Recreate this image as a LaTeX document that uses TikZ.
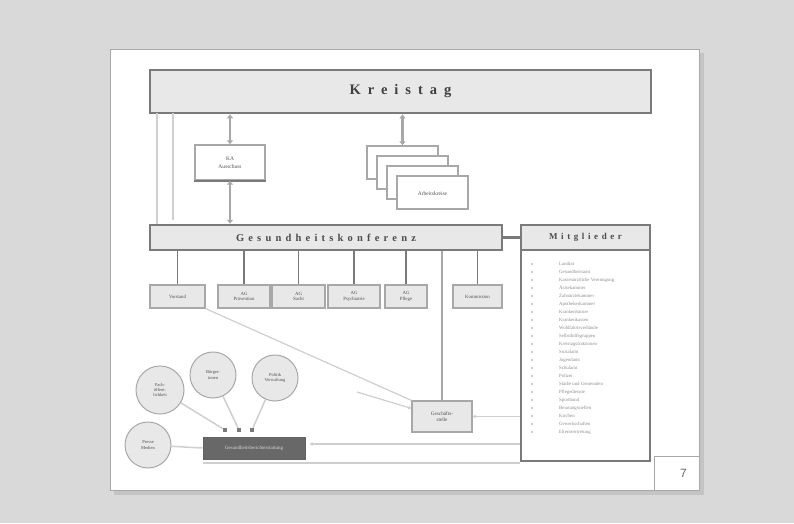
\documentclass[tikz,border=0pt]{standalone}
\usepackage{fontspec}
\setmainfont{Liberation Serif}
\newfontfamily\spacedA[LetterSpace=48]{Liberation Serif}
\newfontfamily\spacedB[LetterSpace=40]{Liberation Serif}
\newfontfamily\numfont{Liberation Sans}
\usetikzlibrary{arrows.meta}
\definecolor{bgc}{HTML}{D9D9D9}
\definecolor{shadowc}{HTML}{C4C4C4}
\definecolor{dark}{HTML}{7A7A7A}
\definecolor{mid}{HTML}{A8A8A8}
\definecolor{light}{HTML}{CFCFCF}
\definecolor{fillc}{HTML}{E8E8E8}
\definecolor{txt}{HTML}{505050}
\tikzset{
  bar/.style={draw=dark, line width=2.5pt, fill=fillc, inner sep=0pt, text=txt},
  smallbox/.style={draw=mid, line width=1.2pt, fill=fillc, inner sep=0pt, align=center,
    font=\fontsize{4.8}{5.5}\selectfont, text=txt},
  stackbox/.style={draw=mid, line width=1.2pt, fill=white, inner sep=0pt,
    minimum width=71pt, minimum height=33pt, font=\fontsize{5.5}{6}\selectfont, text=txt},
  circ/.style={circle, draw=mid, line width=1pt, fill=fillc, inner sep=0pt, align=center,
    font=\fontsize{4.5}{5.2}\selectfont, text=txt},
  dbl/.style={draw=mid, line width=2.6pt, {Latex[length=4pt,width=7pt]}-{Latex[length=4pt,width=7pt]}},
  conn/.style={draw=dark, line width=1.6pt},
  faint/.style={draw=light, line width=1.5pt},
  item/.style={anchor=west, inner sep=0pt, font=\fontsize{4.8}{5}\selectfont, text=black!45},
  bul/.style={fill=light, minimum size=2.5pt, inner sep=0pt},
  sq/.style={fill=dark, minimum size=4pt, inner sep=0pt}
}
\begin{document}
\begin{tikzpicture}[x=1pt,y=-1pt]
\useasboundingbox (0,0) rectangle (794,523);
\fill[bgc] (0,0) rectangle (794,523);
% slide
\fill[shadowc] (114,53) rectangle (704,495);
\draw[draw=mid, line width=0.8pt, fill=white] (110,49) rectangle (699,490);

% Kreistag
\node[bar, minimum width=501pt, minimum height=43pt] (kt) at (400.5,91.5)
  {\spacedA\fontsize{14.5}{16}\selectfont\bfseries\color{black!75}Kreistag};
\coordinate (l1) at (157,113);
\coordinate (l2) at (173,113);

% KA box
\node[smallbox, fill=white, minimum width=70pt, minimum height=35pt, font=\fontsize{5.5}{8}\selectfont] (ka) at (230,162.5) {KA\\Ausschuss};
\draw[dark, line width=2.2pt] (ka.south west) -- (ka.south east);

% stacked boxes
\node[stackbox] (ak1) at (402.5,162.5) {};
\node[stackbox] (ak2) at (412.5,172.5) {};
\node[stackbox] (ak3) at (422.5,182.5) {};
\node[stackbox] (ak4) at (432.5,192.5) {\raisebox{-6pt}{Arbeitskreise}};

% Gesundheitskonferenz
\node[bar, minimum width=352pt, minimum height=25pt] (gk) at (326,237.5)
  {\spacedB\fontsize{10.5}{12}\selectfont\bfseries\color{black!70}Gesundheitskonferenz};

\draw[faint, line width=2.5pt] (l1) -- (l1 |- gk.north);
\draw[faint, line width=2pt] (l2) -- ([yshift=4pt]l2 |- gk.north);

\draw[dbl] (ka.north) -- (ka.north |- kt.south);
\draw[dbl] (ka.south |- gk.north) -- (ka.south);
\draw[dbl] (ak1.north) -- (ak1.north |- kt.south);

% Mitglieder
\node[draw=dark, line width=2.5pt, fill=white, minimum width=129pt, minimum height=236pt, inner sep=0pt] (mg) at (585.5,343) {};
\node[draw=dark, line width=2.5pt, fill=fillc, minimum width=129pt, minimum height=25pt, inner sep=0pt, text=txt] (mgh) at (585.5,237.5)
  {\spacedB\fontsize{9}{10}\selectfont\bfseries\color{black!70}Mitglieder};
\draw[dark, line width=3pt] (gk.east) -- (mgh.west);

% member list
\foreach \t [count=\i] in {Landrat, Gesundheitsamt, Kassenärztliche Vereinigung, Ärztekammer,
  Zahnärztekammer, Apothekerkammer, Krankenhäuser, Krankenkassen, Wohlfahrtsverbände,
  Selbsthilfegruppen, Kreistagsfraktionen, Sozialamt, Jugendamt, Schulamt, Polizei,
  Städte und Gemeinden, Pflegedienste, Sportbund, Beratungsstellen, Kirchen,
  Gewerkschaften, Elternvertretung}{
  \node[bul] at (532, 256+8*\i) {};
  \node[item] at (559, 256+8*\i) {\t};
}

% bottom row boxes
\node[smallbox, minimum width=55pt, minimum height=23pt] (b1) at (177.5,296.5) {Vorstand};
\node[smallbox, minimum width=52pt, minimum height=23pt] (b2) at (244,296.5) {AG\\Prävention};
\node[smallbox, minimum width=53pt, minimum height=23pt] (b3) at (298.5,296.5) {AG\\Sucht};
\node[smallbox, minimum width=52pt, minimum height=23pt] (b4) at (354,296.5) {AG\\Psychiatrie};
\node[smallbox, minimum width=42pt, minimum height=23pt] (b5) at (406,296.5) {AG\\Pflege};
\node[smallbox, minimum width=49pt, minimum height=23pt] (b6) at (477.5,296.5) {Kommission};
\foreach \b in {b1,b2,b3,b4,b5,b6}{
  \draw[conn] (\b.north) -- (\b.north |- gk.south);
}

% Geschaeftsstelle
\node[smallbox, minimum width=60pt, minimum height=31pt, font=\fontsize{5.2}{6}\selectfont] (gs) at (442,416.5) {Geschäfts-\\stelle};
\draw[mid, line width=2.5pt] (gs.north) -- (gs.north |- gk.south);
\draw[faint, -{Latex[length=3pt,width=4pt]}] (mg.west |- gs.east) -- (gs.east);

% diagonals
\draw[faint, line width=1.2pt] (b1.south east) -- (gs.north west);
\coordinate (d0) at (357,392);
\draw[faint, line width=1.2pt, -{Latex[length=3pt,width=4pt]}] (d0) -- ([yshift=-8pt]gs.north west);

% dark box
\node[draw=dark!80!black, fill=dark!85!black, line width=1pt, minimum width=102pt, minimum height=22pt,
  inner sep=0pt, font=\fontsize{5}{6}\selectfont, text=white!85!black] (db) at (254,448) {Gesundheitsberichterstattung};
\draw[faint, -{Latex[length=3pt,width=4pt]}] ([yshift=4pt]mg.west |- db.east) -- ([yshift=4pt,xshift=4pt]db.east);
\draw[faint, line width=2pt] ([yshift=-3pt]db.south west) -- ([yshift=-3pt]db.south west -| mg.west);

% circles
\node[circ, minimum size=48pt] (c1) at (160,390) {Fach-\\öffent-\\lichkeit};
\node[circ, minimum size=46pt] (c2) at (213,375) {Bürger-\\innen};
\node[circ, minimum size=46pt] (c3) at (275,378) {Politik\\Verwaltung};
\node[circ, minimum size=46pt] (c4) at (148,445) {Presse\\Medien};
\node[sq] (s1) at (225,430) {};
\node[sq] (s2) at (239,430) {};
\node[sq] (s3) at (252,430) {};
\draw[faint] (c1) -- (s1);
\draw[faint] (c2) -- (s2);
\draw[faint] (c3) -- (s3);
\draw[faint] (c4) -- (db.west);

% page number
\node[draw=mid, line width=0.8pt, fill=white, minimum width=45pt, minimum height=34pt, inner sep=0pt,
  font=\numfont\fontsize{12}{14}\selectfont, text=black!60] (pn) at (676.5,473) {\hspace*{14pt}7};
\end{tikzpicture}
\end{document}
